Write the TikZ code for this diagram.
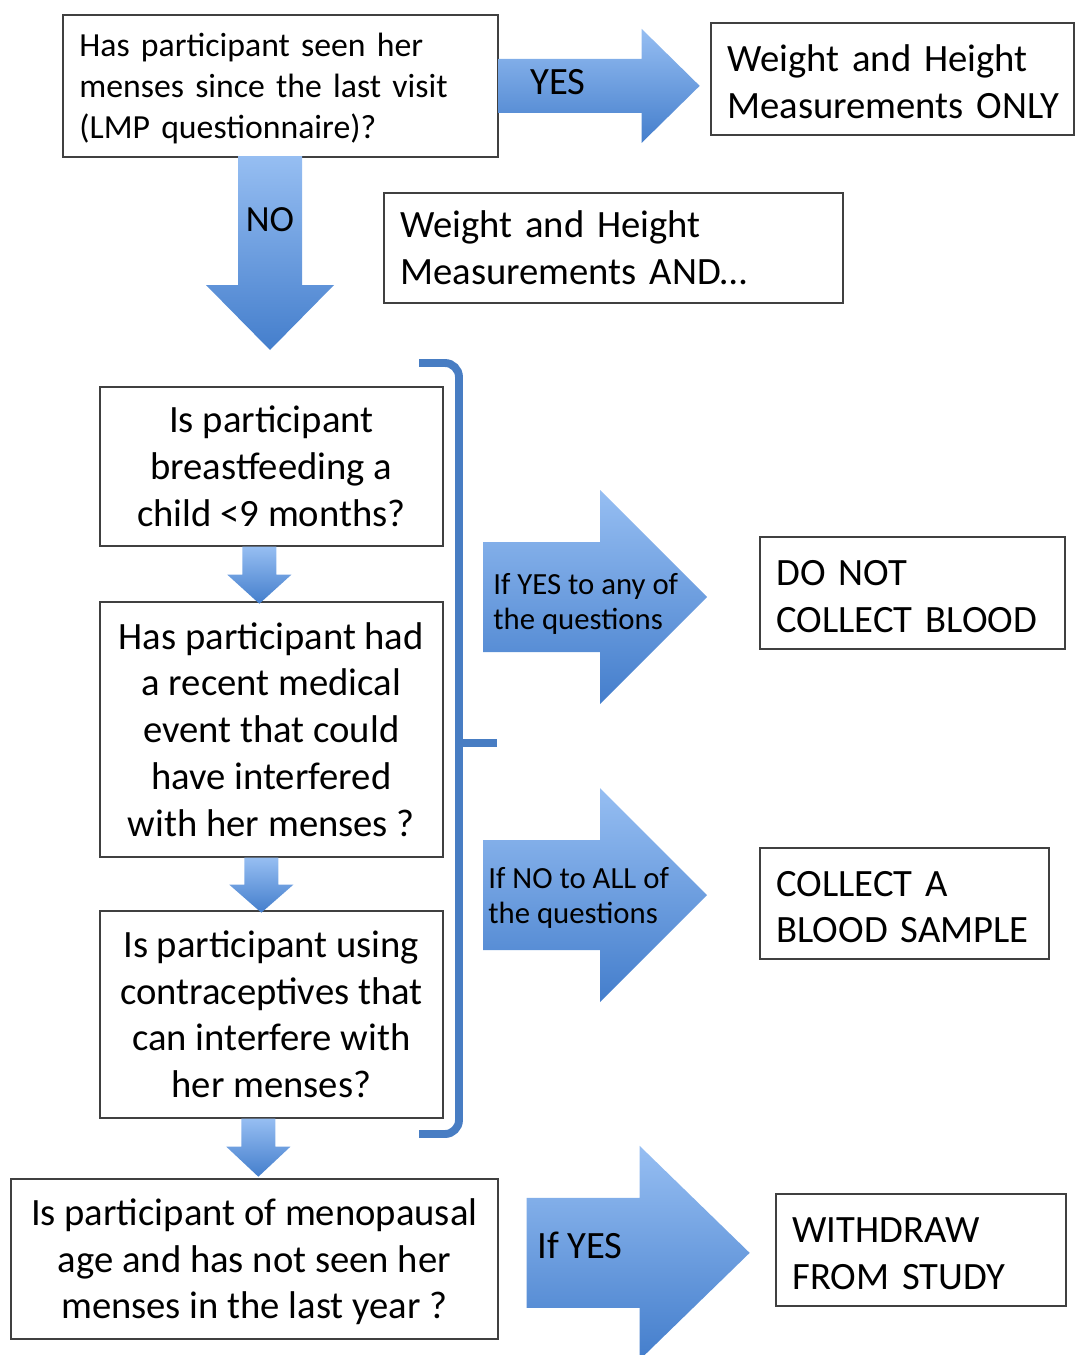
\documentclass[tikz,border=0pt]{standalone}
\usepackage{fontspec}
\setmainfont{Carlito}
\usepackage{tikz}
\usetikzlibrary{calc}
\definecolor{arrowtop}{RGB}{150,190,242}
\definecolor{arrowbot}{RGB}{68,126,204}
\definecolor{bracketblue}{RGB}{72,125,195}
\tikzset{
	x=0.02cm, y=-0.02cm, % one unit is one pixel of the layout, y runs downwards
	box/.style={draw=black!75, line width=1pt, fill=white, inner sep=0pt, anchor=north west}, % every question and outcome box
	leftbox/.style={box, inner xsep=0.33cm, align=left}, % boxes with text set flush left
	midbox/.style={box, align=center}, % boxes with centred text
	bigtext/.style={font=\fontsize{22}{26.6}\selectfont}, % text in the boxes
	arrowtext/.style={font=\fontsize{17.5}{19.8}\selectfont, align=left, inner sep=0pt}, % text on the block arrows
	blockarrow/.style={top color=arrowtop, bottom color=arrowbot}, % blue block arrows
	bracket/.style={draw=bracketblue, line width=4.5pt, rounded corners=8pt}, % the bracket round the questions
}
% block arrow to the right: start, shaft half width, head half width, shaft length, head length
\newcommand{\rarrow}[5]{\shade[blockarrow] ($(#1)+(0,-#2)$) -- ++(#4,0) -- ++(0,#2-#3) -- ++(#5,#3) -- ++(-#5,#3) -- ++(0,#2-#3) -- ++(-#4,0) -- cycle;}
% block arrow downwards: start, shaft half width, head half width, shaft length, head length
\newcommand{\darrow}[5]{\shade[blockarrow] ($(#1)+(-#2,0)$) -- ++(0,#4) -- ++(#2-#3,0) -- ++(#3,#5) -- ++(#3,-#5) -- ++(#2-#3,0) -- ++(0,-#4) -- cycle;}

\begin{document}
\begin{tikzpicture}
	\useasboundingbox (0,0) rectangle (1075,1355);
	% questions and outcomes
	\node[leftbox, text width=8.04cm, minimum height=2.84cm, font=\fontsize{19.2}{23.5}\selectfont] (q0) at (62,14)
		{\strut Has participant seen her\\menses since the last visit\\(LMP questionnaire)?};
	\node[leftbox, bigtext, text width=6.60cm, minimum height=2.24cm] (yesbox) at (710,22)
		{\strut Weight and Height\\Measurements~ONLY};
	\node[leftbox, bigtext, text width=8.52cm, minimum height=2.20cm] (andbox) at (383,192)
		{Weight and Height\\Measurements AND\dots};
	\node[midbox, bigtext, minimum width=6.86cm, minimum height=3.18cm] (q1) at (99,386)
		{Is participant\\breastfeeding a\\child <9 months?};
	\node[midbox, bigtext, minimum width=6.86cm, minimum height=5.10cm] (q2) at (99,601)
		{Has participant had\\a recent medical\\event that could\\have interfered\\with her menses ?};
	\node[midbox, bigtext, minimum width=6.86cm, minimum height=4.14cm] (q3) at (99,910)
		{Is participant using\\contraceptives that\\can interfere with\\her menses?};
	\node[midbox, bigtext, minimum width=9.74cm, minimum height=3.20cm] (q4) at (10,1178)
		{\strut Is participant of menopausal\\age and has not seen her\\menses in the last year ?};
	\node[leftbox, bigtext, text width=5.44cm, minimum height=2.24cm] (noblood) at (759,536)
		{\strut DO NOT\\COLLECT BLOOD};
	\node[leftbox, bigtext, text width=5.12cm, minimum height=2.22cm] (blood) at (759,847)
		{\strut COLLECT A\\BLOOD SAMPLE};
	\node[leftbox, bigtext, text width=5.14cm, minimum height=2.24cm] (withdraw) at (775,1193)
		{\strut WITHDRAW\\FROM STUDY};
	% bracket round the three questions
	\coordinate (brtop) at (419,363);
	\coordinate (brbot) at (419,1134);
	\draw[bracket] (brtop) -- (459,363) -- (459,1134) -- (brbot);
	\draw[bracket, rounded corners=0pt] (459,743) -- (497,743);
	% block arrows
	\coordinate (anyyes) at (483,597);
	\coordinate (allno) at (483,895);
	\rarrow{q0.east}{27}{57}{143}{58}
	\darrow{270,156}{32}{64}{129}{65}
	\darrow{$(q1.south)+(-12,0)$}{17}{32}{28}{29}
	\darrow{$(q2.south)+(-10,0)$}{17}{32}{27}{28}
	\darrow{$(q3.south)+(-13,0)$}{17}{32}{28}{30}
	\rarrow{anyyes}{55}{107}{117}{107}
	\rarrow{allno}{55}{107}{117}{107}
	\rarrow{$(q4.east)+(28,-6)$}{55}{107}{113}{110}
	\node[font=\fontsize{22}{26}\selectfont, inner sep=0pt] (yes) at (558,82) {YES};
	\node[font=\fontsize{21}{26}\selectfont, inner sep=0pt] (no) at (270,220) {NO};
	\node[arrowtext, anchor=west] (anylabel) at (493,604) {If YES to any of\\the questions};
	\node[arrowtext, anchor=west] (alllabel) at (488,898) {If NO to ALL of\\the questions};
	\node[font=\fontsize{22}{26}\selectfont, inner sep=0pt, anchor=west] (iflabel) at (537,1245) {If YES};
\end{tikzpicture}
\end{document}
